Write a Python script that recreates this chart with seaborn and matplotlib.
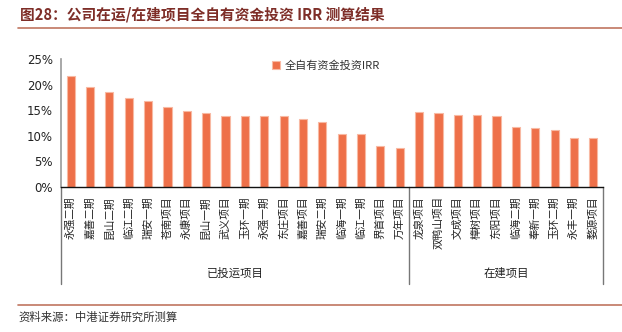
import matplotlib
matplotlib.use("Agg")
import matplotlib.pyplot as plt
import matplotlib.transforms as mtransforms
import seaborn as sns
import numpy as np
import pandas as pd

# ---- data ----
projects_running = ["永强二期", "嘉善二期", "昆山二期", "临江二期", "瑞安一期", "苍南项目",
                    "永康项目", "昆山一期", "武义项目", "玉环一期", "永强一期", "东庄项目",
                    "嘉善项目", "瑞安二期", "临海一期", "临江一期", "界首项目", "万年项目"]
irr_running = [21.6, 19.5, 18.5, 17.4, 16.8, 15.6, 14.8, 14.4, 13.9, 13.9, 13.9, 13.8,
               13.2, 12.7, 10.4, 10.4, 8.1, 7.7]
projects_building = ["龙泉项目", "双鸭山项目", "文成项目", "樟树项目", "东阳项目",
                     "临海二期", "奉新一期", "玉环二期", "永丰一期", "婺源项目"]
irr_building = [14.6, 14.4, 14.1, 14.1, 13.8, 11.7, 11.5, 11.1, 9.6, 9.6]
group_names = ["已投运项目", "在建项目"]
series_name = "全自有资金投资IRR"
y_ticks = [0, 5, 10, 15, 20, 25]
title = "图28：公司在运/在建项目全自有资金投资 IRR 测算结果"
source = "资料来源：中港证券研究所测算"

df = pd.DataFrame({
    "project": projects_running + projects_building,
    "irr": irr_running + irr_building,
})

sns.set_theme(style="white")
plt.rcParams["font.family"] = ["Noto Sans CJK SC", "DejaVu Sans"]

W, H = 622, 332
fig = plt.figure(figsize=(W / 100, H / 100), dpi=100)
ax = fig.add_axes([61 / W, (H - 187) / H, (603 - 61) / W, (187 - 59) / H])

bar_color = "#EE7049"
sns.barplot(data=df, x="project", y="irr", color=bar_color, width=0.42,
            edgecolor="#F8B9A3", linewidth=0.8, label=series_name, ax=ax,
            saturation=1)

n = len(df)
ax.set_xlim(-0.5, n - 0.5)
ax.set_ylim(0, 25)
ax.set_yticks(y_ticks)
ax.set_yticklabels([f"{v}%" for v in y_ticks], fontsize=8.5, color="#222222",
                   family=["DejaVu Sans"])
ax.set_xlabel("")
ax.set_ylabel("")

for s in ["top", "right"]:
    ax.spines[s].set_visible(False)
ax.spines["left"].set_color("#999999")
ax.spines["left"].set_linewidth(1.2)
ax.spines["bottom"].set_color("#111111")
ax.spines["bottom"].set_linewidth(1.0)

ax.tick_params(axis="y", direction="in", length=3, width=1, color="#333333", pad=6)

# category labels: rotated, reading bottom-to-top
ax.set_xticks(np.arange(n))
ax.set_xticklabels(df["project"], rotation=90, fontsize=7.7, color="#222222", va="top")
ax.tick_params(axis="x", which="major", length=0, pad=6.5)

# boundaries between categories as long minor ticks
ax.set_xticks(np.arange(n + 1) - 0.5, minor=True)
ax.tick_params(axis="x", which="minor", direction="out", length=52, width=1.0,
               color="#777777")

# group separators and group labels
trans = mtransforms.blended_transform_factory(ax.transData, ax.transAxes)
sizes = [len(projects_running), len(projects_building)]
edges = np.concatenate([[0], np.cumsum(sizes)]) - 0.5
for e in edges:
    ax.plot([e, e], [0, -0.76], transform=trans, color="#777777", lw=1.0, clip_on=False)
for i, g in enumerate(group_names):
    mid = (edges[i] + edges[i + 1]) / 2
    ax.text(mid, -0.67, g, transform=trans, ha="center", va="center",
            fontsize=8.2, color="#222222")

# legend
ax.legend(loc="upper left", bbox_to_anchor=((262 - 61) / 542, 1.07), frameon=False,
          fontsize=8, handlelength=0.7, handleheight=0.7, handletextpad=0.4,
          labelcolor="#333333")

# title and rules
fig.text(20 / W, 1 - 14 / H, title, fontsize=10.6, fontweight="bold", color="#7E2E28",
         ha="left", va="center")
fig.add_artist(plt.Line2D([18 / W, 1], [1 - 28 / H] * 2, color="#C07560", lw=1.2))
fig.add_artist(plt.Line2D([18 / W, 1], [1 - 305 / H] * 2, color="#C07560", lw=1.2))
fig.text(18 / W, 1 - 317 / H, source, fontsize=8.2, style="italic", color="#333333",
         ha="left", va="center")

fig.savefig("out.png", dpi=100)
